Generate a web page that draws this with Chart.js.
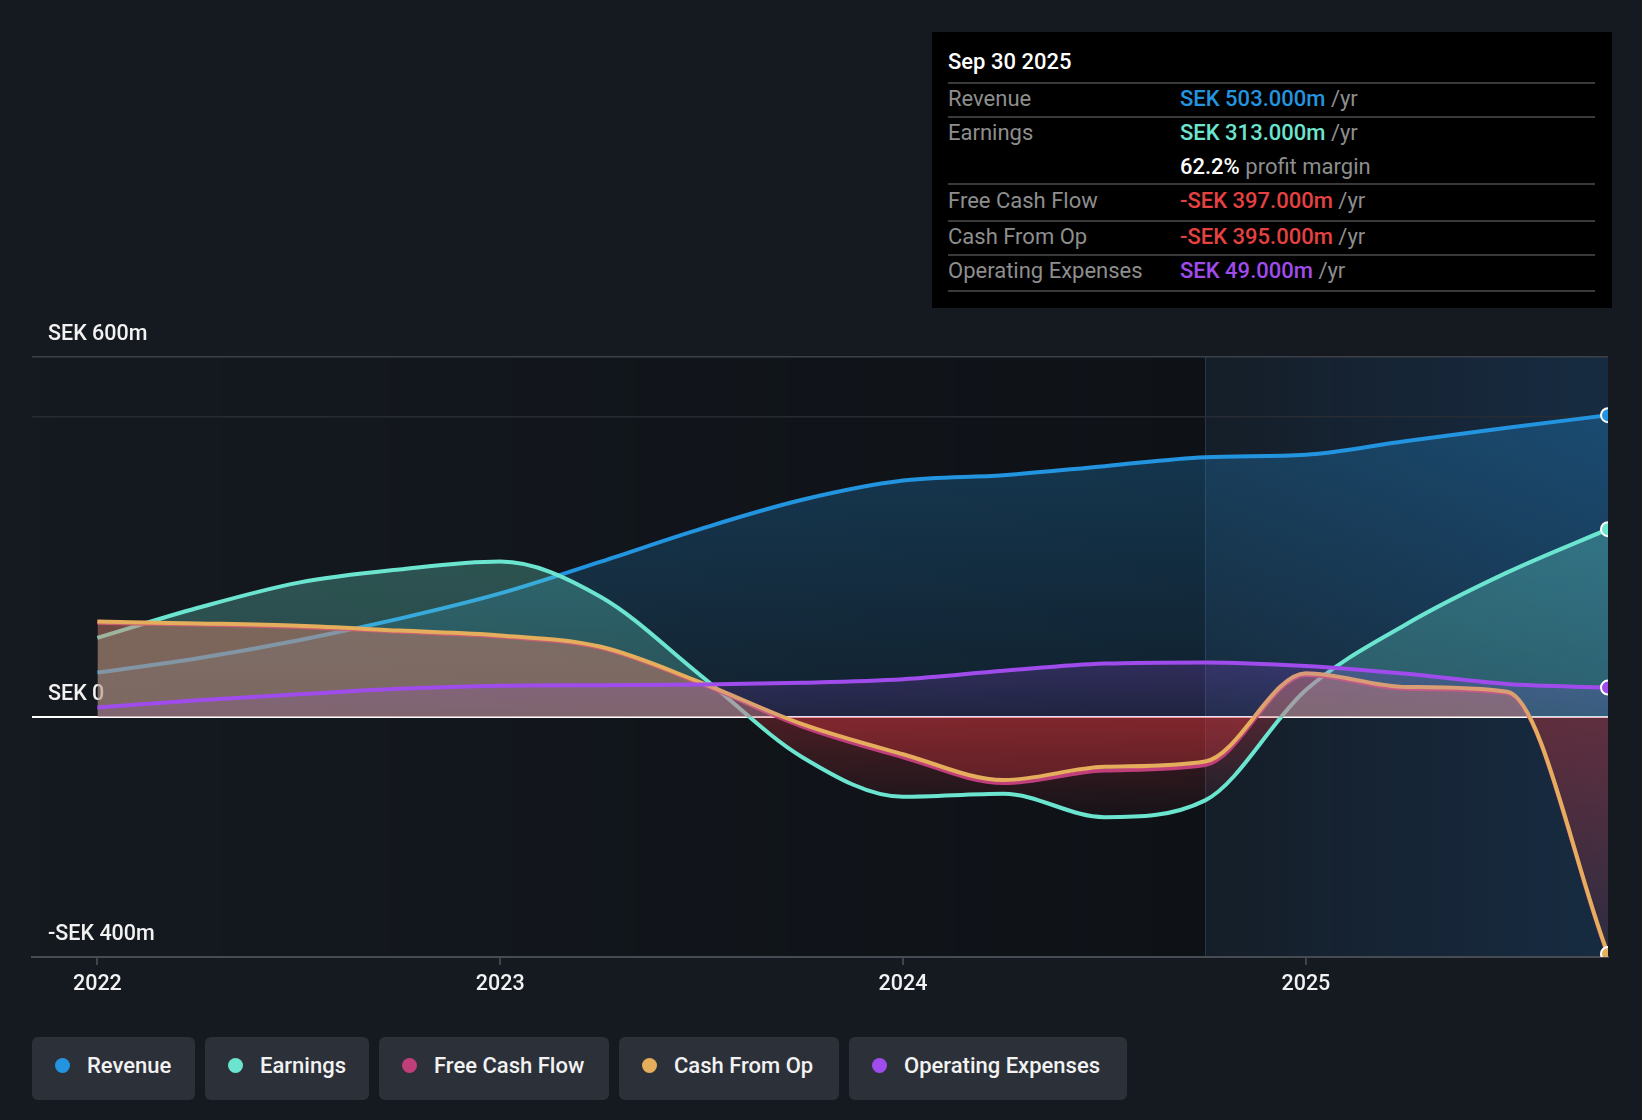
<!DOCTYPE html>
<html>
<head>
<meta charset="utf-8">
<script src="https://cdn.jsdelivr.net/npm/chart.js@4.4.0/dist/chart.umd.min.js"></script>
<style>
  html, body { margin: 0; padding: 0; background: #151a21; }
  body { width: 1642px; height: 1120px; position: relative; overflow: hidden; font-family: Roboto, "Noto Sans", sans-serif; }
  #chart { position: absolute; left: 0; top: 0; }
  .tip { position: absolute; left: 932px; top: 32px; width: 680px; height: 276px; background: #000; }
  .tip div { position: absolute; white-space: nowrap; }
  .tip .txt { line-height: 30px; height: 30px; font-size: 22px; }
  .tip .sep { left: 16px; width: 647px; height: 2px; background: #3a3a3a; }
  .tip .lbl { left: 16px; color: #8e8e8e; }
  .tip .val { left: 248px; font-weight: 500; }
  .tip .unit { color: #8e8e8e; font-weight: 400; }
  .legend { position: absolute; left: 32px; top: 1037px; display: flex; gap: 10px; }
  .legend .item { height: 63px; border-radius: 6px; background: #2c3039; color: #f2f2f2; font-size: 22px; font-weight: 500;
                  display: flex; align-items: center; padding-left: 23px; padding-bottom: 6px; box-sizing: border-box; }
  .legend .dot { width: 15px; height: 15px; border-radius: 50%; margin-right: 17px; }
</style>
</head>
<body>
<canvas id="chart" width="1642" height="1010"></canvas>
<div class="tip" id="tip"></div>
<div class="legend" id="legend"></div>
<script>
// quarter ends (decimal years), Dec 2021 .. Sep 2025
const periods = [2022.0, 2022.25, 2022.5, 2022.75, 2023.0, 2023.25, 2023.5, 2023.75,
                 2024.0, 2024.25, 2024.5, 2024.75, 2025.0, 2025.25, 2025.5, 2025.75];

// values in SEK m
const revenue      = [74, 98, 128, 164, 206, 259, 314, 362, 394, 403, 418, 433, 437, 460, 482, 503];
const earnings     = [132, 182, 224, 246, 259, 200, 68, -67, -133, -128, -167, -139, 45, 155, 241, 313];
const freeCashFlow = [157, 154, 150, 142, 134, 115, 55, -16, -67, -110, -89, -80, 70, 47, 40, -397];
const cashFromOp   = [159, 156, 152, 144, 136, 117, 57, -12, -62, -105, -83, -74, 73, 50, 42, -395];
const opExpenses   = [16, 28, 38, 47, 52, 53, 54, 57, 63, 77, 89, 91, 85, 72, 55, 49];

const seriesNames = ['Revenue', 'Earnings', 'Free Cash Flow', 'Cash From Op', 'Operating Expenses'];
const xTicks = [2022, 2023, 2024, 2025];
const yTicks = [600, 500, 0, -400];
const yTickLabels = { 600: 'SEK 600m', 0: 'SEK 0', '-400': '-SEK 400m' };
const highlightStart = 2024.75;
const tipDate = 'Sep 30 2025';

const colors = ['#2394df', '#6ce5d0', '#c03f7b', '#e5ae5c', '#a04ced'];
const rgbs = [[35, 148, 223], [108, 229, 208], [192, 63, 123], [229, 174, 92], [160, 76, 237]];
const red = [225, 55, 62];
// [above at peak, above at zero, below at zero, below at trough]
const fillAlpha = [
  [0.30, 0.10, 0, 0],
  [0.30, 0.24, 0.28, 0.03],
  [0.28, 0.28, 0.22, 0.06],
  [0.28, 0.28, 0.18, 0.05],
  [0.22, 0.10, 0, 0]
];

const rgba = (c, a) => `rgba(${c[0]},${c[1]},${c[2]},${a})`;
const allSeries = [revenue, earnings, freeCashFlow, cashFromOp, opExpenses];
const lastIdx = periods.length - 1;

const datasets = allSeries.map((vals, i) => ({
  label: seriesNames[i],
  data: periods.map((p, j) => ({ x: p, y: vals[j] })),
  borderColor: colors[i],
  borderWidth: 4,
  cubicInterpolationMode: 'monotone',
  fill: 'origin',
  backgroundColor: 'rgba(0,0,0,0)',
  pointRadius: ctx => ctx.dataIndex === lastIdx && i !== 2 ? 7 : 0,
  pointBackgroundColor: colors[i],
  pointBorderColor: '#ffffff',
  pointBorderWidth: 2,
  order: 5 - i,
  clip: 0
}));

const bgPlugin = {
  id: 'bg',
  beforeDraw(chart) {
    const { ctx, chartArea: a, scales: { x } } = chart;
    const xd = x.getPixelForValue(highlightStart);
    ctx.save();
    const g1 = ctx.createLinearGradient(a.left, 0, xd, 0);
    g1.addColorStop(0, 'rgba(0,0,0,0)');
    g1.addColorStop(1, 'rgba(0,0,0,0.3)');
    ctx.fillStyle = g1;
    ctx.fillRect(a.left, a.top, xd - a.left, a.bottom - a.top);
    const g2 = ctx.createLinearGradient(xd, 0, a.right, 0);
    g2.addColorStop(0, 'rgba(30,100,170,0.06)');
    g2.addColorStop(1, 'rgba(30,100,170,0.24)');
    ctx.fillStyle = g2;
    ctx.fillRect(xd, a.top, a.right - xd, a.bottom - a.top);
    ctx.strokeStyle = 'rgba(60,90,120,0.45)';
    ctx.lineWidth = 1;
    ctx.beginPath();
    ctx.moveTo(Math.round(xd) + 0.5, a.top);
    ctx.lineTo(Math.round(xd) + 0.5, a.bottom);
    ctx.stroke();
    ctx.restore();
  }
};

const tickFont = { family: 'Roboto', size: 21.5, weight: '500' };

const chart = new Chart(document.getElementById('chart'), {
  type: 'line',
  data: { datasets },
  plugins: [bgPlugin],
  options: {
    responsive: false,
    animation: false,
    events: [],
    layout: { padding: { top: 357, left: 32, right: 34, bottom: 3 } },
    plugins: { legend: { display: false }, tooltip: { enabled: false } },
    scales: {
      x: {
        type: 'linear',
        min: 2021.8377,
        max: 2025.75,
        afterBuildTicks: s => { s.ticks = xTicks.map(v => ({ value: v })); },
        afterFit: s => { s.height = 50; },
        ticks: {
          callback: v => String(v),
          color: '#f2f2f2',
          font: tickFont,
          padding: 7,
          maxRotation: 0
        },
        grid: { drawOnChartArea: false, drawTicks: true, tickLength: 8, color: '#3f444c', lineWidth: 2 },
        border: { display: true, color: '#464b54', width: 2 }
      },
      y: {
        min: -400,
        max: 600,
        afterBuildTicks: s => { s.ticks = yTicks.map(v => ({ value: v })); },
        afterFit: s => { s.width = 0; },
        ticks: {
          mirror: true,
          padding: 16,
          labelOffset: -22,
          callback: v => yTickLabels[v] || '',
          color: '#f2f2f2',
          font: tickFont
        },
        grid: {
          drawTicks: false,
          color: c => {
            const v = c.tick && c.tick.value;
            if (v === 0) return '#ffffff';
            if (v === 600) return '#3c4049';
            if (v === 500) return '#272c34';
            return 'rgba(0,0,0,0)';
          },
          lineWidth: c => (c.tick && c.tick.value === 0 ? 2 : 1.5)
        },
        border: { display: false }
      }
    }
  }
});

// gradient fills (fading from each series' extreme towards zero) need the laid-out chart area
(function applyFills() {
  const { ctx, chartArea: a, scales: { y } } = chart;
  const frac = v => Math.min(1, Math.max(0, (y.getPixelForValue(v) - a.top) / (a.bottom - a.top)));
  chart.data.datasets.forEach((ds, i) => {
    const [aTop, aZero, bZero, bBottom] = fillAlpha[i];
    const vals = allSeries[i];
    const hi = Math.max(...vals), lo = Math.min(...vals);
    const c = rgbs[i];
    const up = ctx.createLinearGradient(0, a.top, 0, a.bottom);
    up.addColorStop(0, rgba(c, aTop));
    if (hi > 0) up.addColorStop(frac(hi), rgba(c, aTop));
    up.addColorStop(frac(0), rgba(c, aZero));
    up.addColorStop(1, rgba(c, aZero));
    const down = ctx.createLinearGradient(0, a.top, 0, a.bottom);
    down.addColorStop(0, rgba(red, bZero));
    down.addColorStop(frac(0), rgba(red, bZero));
    if (lo < 0) down.addColorStop(frac(lo), rgba(red, bBottom));
    down.addColorStop(1, rgba(red, bBottom));
    ds.fill = { target: 'origin', above: up, below: down };
  });
  chart.update();
})();

// tooltip-style summary box for the last period
const fmt = v => (v < 0 ? '-' : '') + 'SEK ' + Math.abs(v).toFixed(3) + 'm';
const last = allSeries.map(s => s[lastIdx]);
const margin = (last[1] / last[0] * 100).toFixed(1) + '%';
const tip = document.getElementById('tip');
const rows = [
  { name: seriesNames[0], val: fmt(last[0]), color: colors[0], c: 67 },
  { name: seriesNames[1], val: fmt(last[1]), color: colors[1], c: 101 },
  { name: '', val: margin, color: '#ffffff', c: 135, unit: ' profit margin' },
  { name: seriesNames[2], val: fmt(last[2]), color: '#e64141', c: 169 },
  { name: seriesNames[3], val: fmt(last[3]), color: '#e64141', c: 205 },
  { name: seriesNames[4], val: fmt(last[4]), color: colors[4], c: 239 }
];
let html = `<div class="txt" style="left:16px;top:${30 - 15}px;color:#fff;font-weight:500">${tipDate}</div>`;
[50, 84, 151, 188, 222, 258].forEach(t => { html += `<div class="sep" style="top:${t}px"></div>`; });
rows.forEach(r => {
  html += `<div class="txt lbl" style="top:${r.c - 15}px">${r.name}</div>`;
  html += `<div class="txt val" style="top:${r.c - 15}px;color:${r.color}">${r.val}<span class="unit">${r.unit || ' /yr'}</span></div>`;
});
tip.innerHTML = html;

// legend chips
const legendWidths = [163, 164, 230, 220, 278];
document.getElementById('legend').innerHTML = seriesNames.map((n, i) =>
  `<div class="item" style="width:${legendWidths[i]}px"><span class="dot" style="background:${colors[i]}"></span>${n}</div>`
).join('');
</script>
</body>
</html>
